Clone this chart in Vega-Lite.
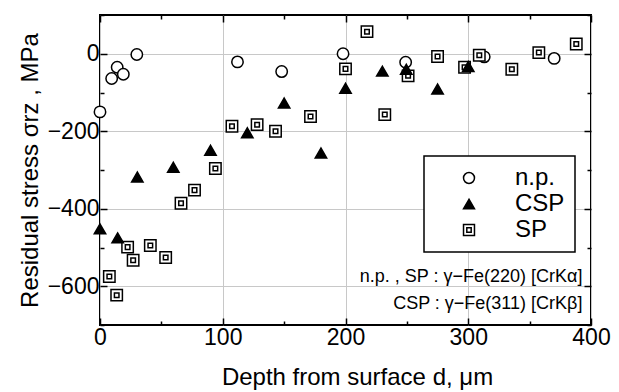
{
  "$schema": "https://vega.github.io/schema/vega-lite/v6.json",
  "width": 491,
  "height": 310,
  "autosize": {"type": "none"},
  "padding": {"left": 100, "top": 15, "right": 28, "bottom": 67},
  "background": "white",
  "config": {
    "font": "Liberation Sans",
    "view": {"stroke": "black", "strokeWidth": 2},
    "legend": {"strokeWidth": 1.5}
  },
  "datasets": {
    "points": [
      {"series": "n.p.", "d": 0, "s": -150},
      {"series": "n.p.", "d": 9.5, "s": -64},
      {"series": "n.p.", "d": 14, "s": -35},
      {"series": "n.p.", "d": 19, "s": -53},
      {"series": "n.p.", "d": 30, "s": -2},
      {"series": "n.p.", "d": 112, "s": -21},
      {"series": "n.p.", "d": 148, "s": -46},
      {"series": "n.p.", "d": 198, "s": 0},
      {"series": "n.p.", "d": 249, "s": -22},
      {"series": "n.p.", "d": 313, "s": -8},
      {"series": "n.p.", "d": 370, "s": -12},
      {"series": "SP", "d": 7.6, "s": -575},
      {"series": "SP", "d": 13.6, "s": -623},
      {"series": "SP", "d": 22.5, "s": -499},
      {"series": "SP", "d": 27, "s": -533},
      {"series": "SP", "d": 41, "s": -495},
      {"series": "SP", "d": 53.5, "s": -526},
      {"series": "SP", "d": 66, "s": -386},
      {"series": "SP", "d": 77, "s": -352},
      {"series": "SP", "d": 94, "s": -296},
      {"series": "SP", "d": 107.5, "s": -187},
      {"series": "SP", "d": 128, "s": -183},
      {"series": "SP", "d": 143, "s": -200},
      {"series": "SP", "d": 171.5, "s": -162},
      {"series": "SP", "d": 200, "s": -39},
      {"series": "SP", "d": 217.5, "s": 57},
      {"series": "SP", "d": 232, "s": -157},
      {"series": "SP", "d": 251, "s": -57},
      {"series": "SP", "d": 275, "s": -7},
      {"series": "SP", "d": 297, "s": -35},
      {"series": "SP", "d": 309, "s": -4},
      {"series": "SP", "d": 335.5, "s": -40},
      {"series": "SP", "d": 357.5, "s": 3},
      {"series": "SP", "d": 388, "s": 25},
      {"series": "CSP", "d": 0, "s": -452},
      {"series": "CSP", "d": 14.4, "s": -475},
      {"series": "CSP", "d": 30.4, "s": -318},
      {"series": "CSP", "d": 59.7, "s": -293},
      {"series": "CSP", "d": 90, "s": -249},
      {"series": "CSP", "d": 120, "s": -204},
      {"series": "CSP", "d": 150, "s": -127},
      {"series": "CSP", "d": 180, "s": -256},
      {"series": "CSP", "d": 200, "s": -89},
      {"series": "CSP", "d": 230, "s": -45},
      {"series": "CSP", "d": 249.5, "s": -40},
      {"series": "CSP", "d": 275, "s": -91},
      {"series": "CSP", "d": 300, "s": -33}
    ]
  },
  "layer": [
    {
      "data": {"name": "points"},
      "mark": {"type": "point", "strokeWidth": 1.5, "opacity": 1, "fillOpacity": 1, "strokeOpacity": 1, "size": 130},
      "encoding": {
        "x": {
          "field": "d", "type": "quantitative",
          "scale": {"domain": [0, 400], "nice": false, "zero": false},
          "axis": {
            "orient": "bottom",
            "values": [0, 50, 100, 150, 200, 250, 300, 350, 400],
            "labelExpr": "datum.value % 100 === 0 ? datum.label : ''",
            "tickSize": {"condition": {"test": "datum.value % 100 === 0", "value": -7}, "value": -4},
            "tickColor": "black",
            "tickWidth": 1.5,
            "grid": true,
            "gridColor": "#c8c8c8",
            "gridWidth": 1,
            "gridOpacity": {"condition": {"test": "datum.value % 100 === 0", "value": 1}, "value": 0},
            "domain": false,
            "labelFontSize": 23,
            "labelColor": "black",
            "labelPadding": 8,
            "labelFlush": false,
            "labelOverlap": false,
            "title": "Depth from surface  d, μm",
            "titleFontSize": 24,
            "titleFontWeight": "normal",
            "titleColor": "black",
            "titleX": 257,
            "titleAlign": "center",
            "titlePadding": 13
          }
        },
        "y": {
          "field": "s", "type": "quantitative",
          "scale": {"domain": [-700, 100], "nice": false, "zero": false},
          "axis": {
            "orient": "left",
            "values": [-700, -600, -500, -400, -300, -200, -100, 0, 100],
            "labelExpr": "datum.value % 200 === 0 ? datum.label : ''",
            "tickSize": {"condition": {"test": "datum.value % 200 === 0", "value": -7}, "value": -4},
            "tickColor": "black",
            "tickWidth": 1.5,
            "grid": true,
            "gridColor": "#c8c8c8",
            "gridWidth": 1,
            "gridOpacity": {"condition": {"test": "datum.value % 200 === 0 && datum.value > -700 && datum.value < 100", "value": 1}, "value": 0},
            "domain": false,
            "labelFontSize": 23,
            "labelColor": "black",
            "labelPadding": 8,
            "labelFlush": false,
            "labelOverlap": false,
            "title": "Residual stress  σrz , MPa",
            "titleFontSize": 24,
            "titleFontWeight": "normal",
            "titleColor": "black",
            "titlePadding": 5
          }
        },
        "shape": {
          "field": "series", "type": "nominal",
          "scale": {"domain": ["n.p.", "CSP", "SP"], "range": ["circle", "triangle-up", "M-1,-1H1V1H-1Z M-0.4,-0.4H0.4V0.4H-0.4Z"]},
          "legend": {
            "title": null, "orient": "none", "legendX": 324, "legendY": 141,
            "fillColor": "white", "strokeColor": "black", "padding": 10,
            "symbolOffset": 23, "labelOffset": 34, "labelFontSize": 24, "labelColor": "black",
            "symbolSize": 120, "symbolStrokeWidth": 1.5, "rowPadding": 2,
            "labelExpr": "datum.label + ' '"
          }
        },
        "fill": {
          "field": "series", "type": "nominal",
          "scale": {"domain": ["n.p.", "CSP", "SP"], "range": ["white", "black", "white"]},
          "legend": {
            "title": null, "orient": "none", "legendX": 324, "legendY": 141,
            "fillColor": "white", "strokeColor": "black", "padding": 10,
            "symbolOffset": 23, "labelOffset": 34, "labelFontSize": 24, "labelColor": "black",
            "symbolSize": 120, "symbolStrokeWidth": 1.5, "rowPadding": 2,
            "labelExpr": "datum.label + ' '"
          }
        },
        "stroke": {
          "field": "series", "type": "nominal",
          "scale": {"domain": ["n.p.", "CSP", "SP"], "range": ["black", "black", "black"]},
          "legend": {
            "title": null, "orient": "none", "legendX": 324, "legendY": 141,
            "fillColor": "white", "strokeColor": "black", "padding": 10,
            "symbolOffset": 23, "labelOffset": 34, "labelFontSize": 24, "labelColor": "black",
            "symbolSize": 120, "symbolStrokeWidth": 1.5, "rowPadding": 2,
            "labelExpr": "datum.label + ' '"
          }
        }
      }
    },
    {
      "data": {"values": [{}]},
      "mark": {"type": "text", "text": "n.p. , SP : γ−Fe(220) [CrKα]", "align": "right", "baseline": "middle", "fontSize": 18, "color": "black"},
      "encoding": {
        "x": {
          "datum": 393, "type": "quantitative",
          "axis": {
            "orient": "top", "values": [0, 50, 100, 150, 200, 250, 300, 350, 400],
            "labels": false, "grid": false, "domain": false, "title": null,
            "tickSize": {"condition": {"test": "datum.value % 100 === 0", "value": -7}, "value": -4},
            "tickColor": "black", "tickWidth": 1.5
          }
        },
        "y": {
          "datum": -577, "type": "quantitative",
          "axis": {
            "orient": "right", "values": [-700, -600, -500, -400, -300, -200, -100, 0, 100],
            "labels": false, "grid": false, "domain": false, "title": null,
            "tickSize": {"condition": {"test": "datum.value % 200 === 0", "value": -7}, "value": -4},
            "tickColor": "black", "tickWidth": 1.5
          }
        }
      }
    },
    {
      "data": {"values": [{}]},
      "mark": {"type": "text", "text": "CSP : γ−Fe(311) [CrKβ]", "align": "right", "baseline": "middle", "fontSize": 18, "color": "black"},
      "encoding": {
        "x": {"datum": 393, "type": "quantitative", "axis": null},
        "y": {"datum": -647, "type": "quantitative", "axis": null}
      }
    }
  ],
  "resolve": {"axis": {"x": "independent", "y": "independent"}}
}
